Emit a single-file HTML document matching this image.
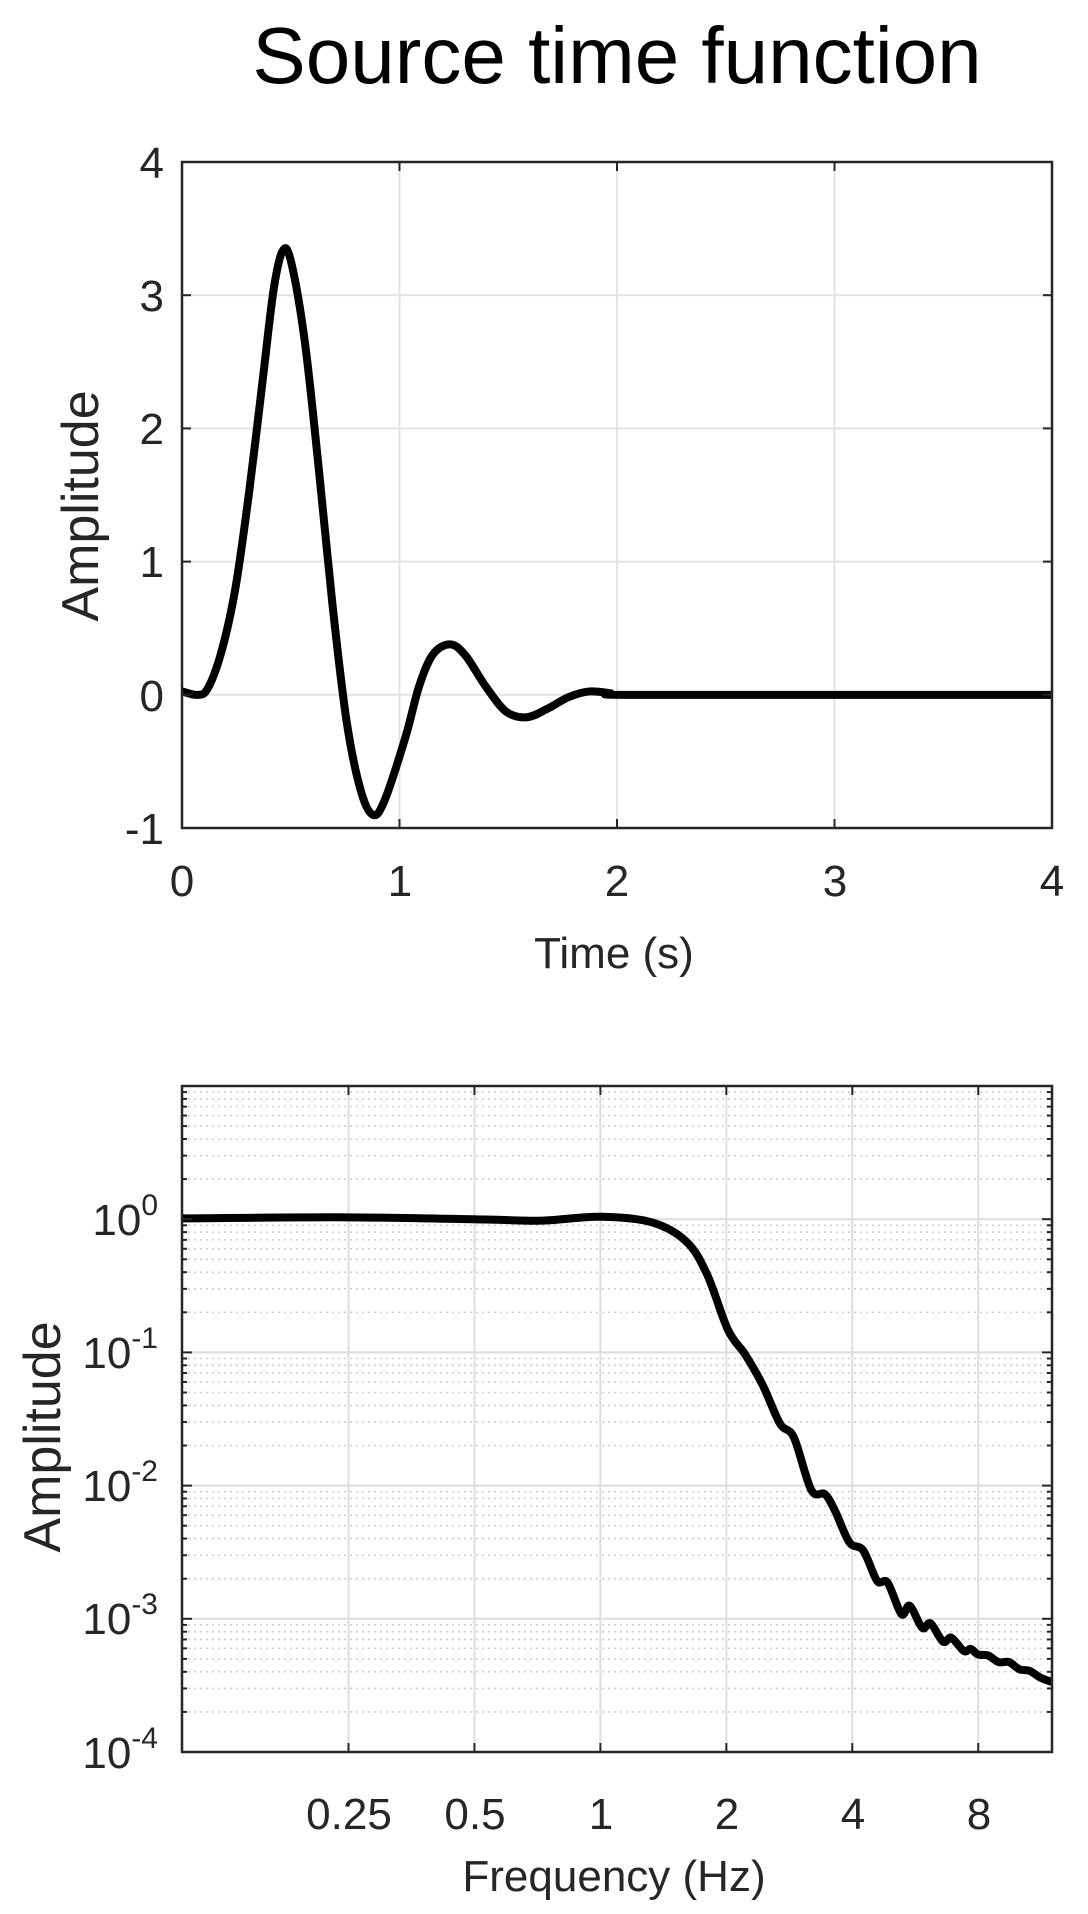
<!DOCTYPE html>
<html><head><meta charset="utf-8"><style>
html,body{margin:0;padding:0;background:#fff;}
svg{display:block;}
text{font-family:"Liberation Sans",Arial,sans-serif;fill:#262626;}
</style></head><body>
<svg id="s" width="1088" height="1914" viewBox="0 0 1088 1914" xmlns="http://www.w3.org/2000/svg">
<rect width="1088" height="1914" fill="#fff"/>
<g id="grid"></g>
<g id="curves"></g>
<g id="axes"></g>
<text x="617" y="83" font-size="80" text-anchor="middle" style="fill:#000">Source time function</text>
<g font-size="44" text-anchor="end">
<text x="164" y="178">4</text>
<text x="164" y="311">3</text>
<text x="164" y="444">2</text>
<text x="164" y="577">1</text>
<text x="164" y="711">0</text>
<text x="164" y="844">-1</text>
</g>
<g font-size="44" text-anchor="middle">
<text x="182" y="896">0</text>
<text x="400" y="896">1</text>
<text x="617" y="896">2</text>
<text x="835" y="896">3</text>
<text x="1052" y="896">4</text>
</g>
<text x="614" y="968" font-size="44" text-anchor="middle">Time (s)</text>
<text transform="translate(98,506) rotate(-90)" font-size="52" text-anchor="middle">Amplitude</text>
<g font-size="44" text-anchor="end">
<text x="158" y="1235">10<tspan font-size="30" dy="-20">0</tspan></text>
<text x="158" y="1368">10<tspan font-size="30" dy="-20">-1</tspan></text>
<text x="158" y="1501">10<tspan font-size="30" dy="-20">-2</tspan></text>
<text x="158" y="1634">10<tspan font-size="30" dy="-20">-3</tspan></text>
<text x="158" y="1768">10<tspan font-size="30" dy="-20">-4</tspan></text>
</g>
<g font-size="44" text-anchor="middle">
<text x="349" y="1829">0.25</text>
<text x="475" y="1829">0.5</text>
<text x="601" y="1829">1</text>
<text x="727" y="1829">2</text>
<text x="853" y="1829">4</text>
<text x="979" y="1829">8</text>
</g>
<text x="614" y="1891" font-size="44" text-anchor="middle">Frequency (Hz)</text>
<text transform="translate(60,1437) rotate(-90)" font-size="52" text-anchor="middle">Amplitude</text>
</svg>
<script>
(function(){
var NS="http://www.w3.org/2000/svg";
function el(p,t,a){var e=document.createElementNS(NS,t);for(var k in a)e.setAttribute(k,a[k]);p.appendChild(e);return e;}
var G=document.getElementById('grid'),C=document.getElementById('curves'),A=document.getElementById('axes');
var L=182,R=1052;
var T1=162,B1=828;
function ty(v){return B1-(v+1)*133.2;}
function tx(v){return L+v*217.5;}
for(var i=1;i<4;i++){el(G,'line',{x1:tx(i),x2:tx(i),y1:T1,y2:B1,stroke:'#e3e3e3','stroke-width':2});}
for(var v=0;v<4;v++){el(G,'line',{x1:L,x2:R,y1:ty(v),y2:ty(v),stroke:'#e3e3e3','stroke-width':2});}
for(var i=0;i<=4;i++){el(A,'line',{x1:tx(i),x2:tx(i),y1:B1,y2:B1-9,stroke:'#262626','stroke-width':2});el(A,'line',{x1:tx(i),x2:tx(i),y1:T1,y2:T1+9,stroke:'#262626','stroke-width':2});}
for(var v=-1;v<=4;v++){el(A,'line',{x1:L,x2:L+9,y1:ty(v),y2:ty(v),stroke:'#262626','stroke-width':2});el(A,'line',{x1:R,x2:R-9,y1:ty(v),y2:ty(v),stroke:'#262626','stroke-width':2});}
el(A,'rect',{x:L,y:T1,width:R-L,height:B1-T1,fill:'none',stroke:'#262626','stroke-width':2.5});
var T2=1086,B2=1752,D=133.2;
function ly(a){return B2-(Math.log10(a)+4)*D;}
function lx(f){return L+418.4*Math.log10(f/0.1);}
for(var d=-4;d<1;d++){for(var m=2;m<10;m++){var y=ly(m*Math.pow(10,d));
 el(G,'line',{x1:L,x2:R,y1:y,y2:y,stroke:'#cfcfcf','stroke-width':1.6,'stroke-dasharray':'2 4'});
 el(A,'line',{x1:L,x2:L+5,y1:y,y2:y,stroke:'#262626','stroke-width':2});el(A,'line',{x1:R,x2:R-5,y1:y,y2:y,stroke:'#262626','stroke-width':2});}}
for(var d=-3;d<1;d++){var y=ly(Math.pow(10,d));el(G,'line',{x1:L,x2:R,y1:y,y2:y,stroke:'#dcdcdc','stroke-width':2});}
for(var d=-4;d<=1;d++){var y=ly(Math.pow(10,d));el(A,'line',{x1:L,x2:L+10,y1:y,y2:y,stroke:'#262626','stroke-width':2});el(A,'line',{x1:R,x2:R-10,y1:y,y2:y,stroke:'#262626','stroke-width':2});}
[0.25,0.5,1,2,4,8].forEach(function(f){var x=lx(f);el(G,'line',{x1:x,x2:x,y1:T2,y2:B2,stroke:'#dedede','stroke-width':2});
 el(A,'line',{x1:x,x2:x,y1:B2,y2:B2-9,stroke:'#262626','stroke-width':2});el(A,'line',{x1:x,x2:x,y1:T2,y2:T2+9,stroke:'#262626','stroke-width':2});});
el(A,'rect',{x:L,y:T2,width:R-L,height:B2-T2,fill:'none',stroke:'#262626','stroke-width':2.5});
function cr(pts){var d='M'+pts[0][0]+','+pts[0][1];for(var i=0;i<pts.length-1;i++){var p0=pts[i-1]||pts[i],p1=pts[i],p2=pts[i+1],p3=pts[i+2]||p2;
 d+=' C'+(p1[0]+(p2[0]-p0[0])/6)+','+(p1[1]+(p2[1]-p0[1])/6)+' '+(p2[0]-(p3[0]-p1[0])/6)+','+(p2[1]-(p3[1]-p1[1])/6)+' '+p2[0]+','+p2[1];}return d;}
var sx=870/1254;
var tp=[[263,1030],[285,1036],[300,1025],[320,960],[340,850],[360,680],[380,480],[395,330],[408,262],[420,280],[440,420],[460,640],[480,880],[500,1080],[520,1200],[538,1245],[555,1220],[585,1110],[605,1020],[625,965],[650,948],[672,968],[700,1020],[730,1065],[760,1075],[790,1060],[820,1040],[850,1030],[880,1033],[900,1036],[1200,1036],[1517,1036]]
 .map(function(p){return [182+(p[0]-263)*sx,162+(p[1]-107)*0.5736];});
el(C,'path',{d:cr(tp),fill:'none',stroke:'#000','stroke-width':8,'stroke-linejoin':'round'});
var bt=[[263,308],[500,306],[700,310],[780,312],[866,305],[940,315],[990,350],[1020,410],[1050,510],[1075,555],[1100,610],[1125,680],[1145,705],[1170,800],[1190,808],[1205,840],[1225,895],[1245,910],[1265,965],[1280,968],[1300,1025],[1312,1010],[1330,1050],[1342,1042],[1360,1075],[1372,1068],[1390,1092],[1400,1088],[1410,1098],[1425,1100],[1440,1112],[1455,1112],[1470,1125],[1485,1128],[1500,1140],[1517,1148]]
 .map(function(p){return [182+(p[0]-263)*sx,1086+(p[1]-68)*0.5518];});
el(C,'path',{d:cr(bt),fill:'none',stroke:'#000','stroke-width':8,'stroke-linejoin':'round'});
})();
</script>
</body></html>
